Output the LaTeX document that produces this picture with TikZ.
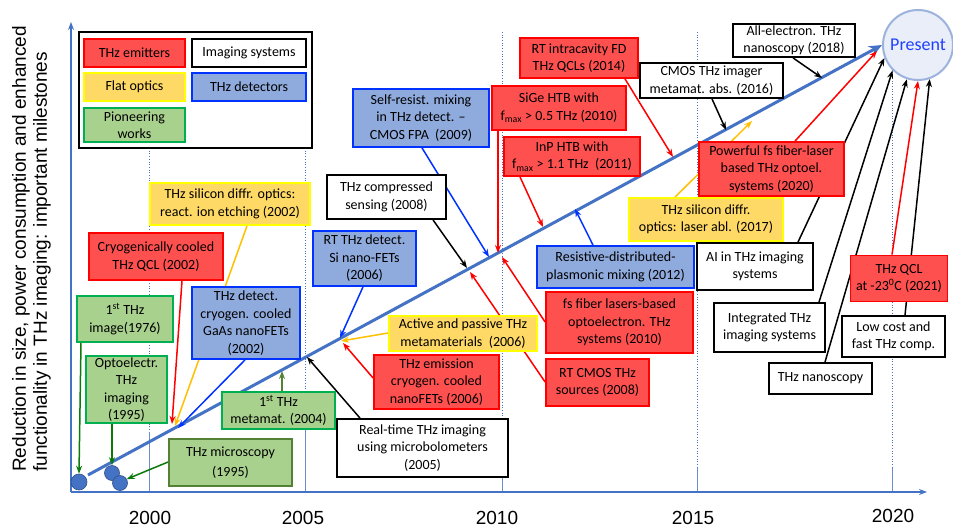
\documentclass[tikz,border=0pt]{standalone}
\usepackage{fontspec}
\setmainfont{Carlito}
\newfontfamily\arialf{Liberation Sans}
\usetikzlibrary{arrows.meta}
\definecolor{rfill}{HTML}{FF5050}
\definecolor{rline}{HTML}{FF0000}
\definecolor{yfill}{HTML}{FFD966}
\definecolor{yline}{HTML}{FFFF00}
\definecolor{bfill}{HTML}{8FAADC}
\definecolor{bline}{HTML}{0033FF}
\definecolor{gfill}{HTML}{A9D18E}
\definecolor{gline}{HTML}{00B050}
\definecolor{gdark}{HTML}{538135}
\definecolor{axisblue}{HTML}{4472C4}
\definecolor{arrorange}{HTML}{FFC000}
\definecolor{arrgreen}{HTML}{0A7A0A}
\definecolor{arrolive}{HTML}{548235}
\definecolor{presfill}{HTML}{E9EEF8}
\definecolor{presline}{HTML}{9DB3DD}
\definecolor{prestext}{HTML}{2040FF}
\pgfdeclarelayer{back}\pgfdeclarelayer{mid}\pgfsetlayers{back,mid,main}
\begin{document}
\begin{tikzpicture}[x=1pt,y=-1pt,
 mbox/.style={draw, line width=1.8pt, inner sep=0pt, align=center, font=\fontsize{14}{17.5}\selectfont},
 redbox/.style={mbox, fill=rfill, draw=rline},
 yelbox/.style={mbox, fill=yfill, draw=yline},
 bluebox/.style={mbox, fill=bfill, draw=bline},
 grnbox/.style={mbox, fill=gfill, draw=gline},
 grndkbox/.style={mbox, fill=gfill, draw=gdark},
 whitebox/.style={mbox, fill=white, draw=black},
 sz/.style 2 args={minimum width=#1pt, minimum height=#2pt},
 arr/.style={line width=1.5pt, -{Stealth[length=8pt,width=6pt]}},
 dotnode/.style={circle, fill=axisblue, draw=axisblue!70!black, line width=0.6pt, minimum size=16pt, inner sep=0pt},
 yearlbl/.style={font=\arialf\fontsize{19}{22}\selectfont, inner sep=0pt},
 gridd/.style={axisblue, line width=0.7pt, dotted},
 grids/.style={axisblue!80, line width=0.7pt},
]
\useasboundingbox (0,0) rectangle (953,529);
\begin{pgfonlayer}{back}
\fill[white] (0,0) rectangle (953,529);
\foreach \gx/\gs in {149/432, 305/417, 502/450, 697/468, 892/468}{
  \draw[gridd] (\gx,32) -- (\gx,\gs);
  \draw[grids] (\gx,\gs) -- (\gx,492);
}
\draw[axisblue, line width=1.3pt, -{Stealth[length=8pt,width=6pt]}] (71,492) -- (71,22);
\draw[axisblue, line width=1.3pt, -{Stealth[length=8pt,width=6pt]}] (71,492) -- (927,492);
\end{pgfonlayer}

% axis label and years
\node[rotate=90, anchor=north west, align=left, inner sep=0pt,
      font=\arialf\fontsize{19}{21}\selectfont] (ylabel) at (12,472)
  {Reduction in size, power consumption and enhanced\\functionality in THz imaging: important milestones};
\node[yearlbl] (y2000) at (150,518) {2000};
\node[yearlbl] (y2005) at (303,518) {2005};
\node[yearlbl] (y2010) at (497,518) {2010};
\node[yearlbl] (y2015) at (693,518) {2015};
\node[yearlbl] (y2020) at (893,516) {2020};

% legend
\node[mbox, draw=black, line width=2.2pt, fill=white, sz={233}{116}] (legend) at (195.5,90) {};
\node[redbox, sz={101}{28}] (lemit) at (134.5,53) {THz emitters};
\node[whitebox, sz={114}{28}] (limg) at (249,53) {Imaging systems};
\node[yelbox, sz={101}{28}] (lflat) at (134.5,87) {Flat optics};
\node[bluebox, sz={114}{28}] (ldet) at (249,87) {THz detectors};
\node[grnbox, sz={101}{34}] (lpio) at (134.5,125) {Pioneering\\works};

% dots and present
\node[dotnode] (dot1) at (79,482) {};
\node[dotnode, minimum size=15pt] (dot2) at (112,473) {};
\node[dotnode, minimum size=15pt] (dot3) at (120,483) {};
\node[circle, draw=presline, fill=presfill, line width=2pt, minimum size=70pt, inner sep=0pt,
      text=prestext, font=\fontsize{18}{20}\selectfont] (present) at (918,45) {Present};

% milestone boxes
\node[grnbox, sz={96}{46}] (img1976) at (125,319) {1\textsuperscript{st} THz\\image(1976)};
\node[grnbox, sz={81}{67}] (opto) at (126.5,389.5) {Optoelectr.\\THz\\imaging\\(1995)};
\node[grndkbox, sz={123}{47}] (micro) at (230.5,462.5) {THz microscopy\\[3pt](1995)};
\node[redbox, sz={134}{47}] (cryoQCL) at (156,256.5) {Cryogenically cooled\\THz QCL (2002)};
\node[yelbox, sz={160}{42}] (siRIE) at (230,204) {THz silicon diffr. optics:\\react. ion etching (2002)};
\node[bluebox, sz={108}{72}] (gaas) at (246,323) {THz detect.\\cryogen. cooled\\GaAs nanoFETs\\(2002)};
\node[grnbox, sz={113}{37}] (meta04) at (278.5,410.5) {1\textsuperscript{st} THz\\metamat. (2004)};
\node[whitebox, sz={171}{58}] (realtime) at (422.5,448) {Real-time THz imaging\\using microbolometers\\(2005)};
\node[bluebox, sz={103}{55}] (rtsi) at (364.5,258.5) {RT THz detect.\\Si nano-FETs\\(2006)};
\node[yelbox, sz={148}{35}] (active) at (463,333.5) {Active and passive THz\\metamaterials~~(2006)};
\node[redbox, sz={125}{54}] (emission) at (436.5,382) {THz emission\\cryogen. cooled\\nanoFETs (2006)};
\node[whitebox, sz={119}{44}] (compressed) at (386.5,197) {THz compressed\\sensing (2008)};
\node[bluebox, sz={136}{58}] (selfres) at (421,118) {Self-resist. mixing\\in THz detect. –\\CMOS FPA~~(2009)};
\node[redbox, sz={134}{44}] (sige) at (559,108) {SiGe HTB with\\f\textsubscript{max} > 0.5 THz (2010)};
\node[redbox, sz={136}{39}] (inp) at (572,156.5) {InP HTB with\\f\textsubscript{max} > 1.1 THz~~(2011)};
\node[redbox, sz={118}{40}] (rtqcl) at (579,58) {RT intracavity FD\\THz QCLs (2014)};
\node[redbox, sz={147}{61}] (fsfiber) at (619.5,322.5) {fs fiber lasers-based\\optoelectron. THz\\systems (2010)};
\node[redbox, sz={103}{47}] (rtcmos) at (597.5,382.5) {RT CMOS THz\\sources (2008)};
\node[bluebox, sz={157}{42}] (resist) at (615.5,267) {Resistive-distributed-\\plasmonic mixing (2012)};
\node[whitebox, sz={143}{35}] (cmosimg) at (711.5,80.5) {CMOS THz imager\\metamat. abs. (2016)};
\node[whitebox, sz={122}{33}] (allelec) at (794,40.5) {All-electron. THz\\nanoscopy (2018)};
\node[yelbox, sz={154}{43}] (silaser) at (706,219.5) {THz silicon diffr.\\optics: laser abl. (2017)};
\node[redbox, sz={145}{54}] (powerful) at (771.5,169) {Powerful fs fiber-laser\\based THz optoel.\\systems (2020)};
\node[whitebox, sz={116}{47}] (ai) at (755,266.5) {AI in THz imaging\\systems};
\node[whitebox, sz={111}{49}] (integ) at (769.5,327.5) {Integrated THz\\imaging systems};
\node[whitebox, sz={103}{31}] (nanosc) at (820.5,378.5) {THz nanoscopy};
\node[whitebox, sz={103}{41}] (lowcost) at (893.5,336.5) {Low cost and\\fast THz comp.};
\node[redbox, sz={97}{46}] (qcl23) at (899,278.5) {THz QCL\\at -23\textsuperscript{0}C (2021)};

% arrow end points on the milestone line
\coordinate (mstart) at (88,475);
\coordinate (t4) at (172,424);
\coordinate (t5) at (175,426);
\coordinate (t6) at (178,428);
\coordinate (t7) at (282,371);
\coordinate (t8) at (307,357);
\coordinate (t9) at (340,338);
\coordinate (t10) at (341,341);
\coordinate (t11) at (343,343);
\coordinate (t12) at (467,268);
\coordinate (t13) at (489,257);
\coordinate (t14) at (498,253);
\coordinate (t15) at (543,227);
\coordinate (t16) at (673,157);
\coordinate (t17) at (502,257);
\coordinate (t18) at (470,272);
\coordinate (t19) at (575,209);
\coordinate (t20) at (726,130);
\coordinate (t21) at (822,78);
\coordinate (t22) at (752,121);
\coordinate (t23) at (877,51);

\begin{pgfonlayer}{mid}
\draw[axisblue, line width=3pt, -{Stealth[length=13pt,width=11pt]}] (mstart) -- (present.west);
\draw[arr, arrgreen] (img1976.south -| 81,0) -- (dot1.north);
\draw[arr, arrgreen] (opto.south -| 112,0) -- (dot2.north);
\draw[arr, arrgreen] (micro.west |- 0,462) -- (dot3.30);
\draw[arr, rline] (cryoQCL.south -| 182,0) -- (t4);
\draw[arr, arrorange] (siRIE.south -| 247,0) -- (t5);
\draw[arr, bline] (gaas.south -| 245,0) -- (t6);
\draw[arr, arrolive] (meta04.north -| 282,0) -- (t7);
\draw[arr, black] (realtime.north -| 360,0) -- (t8);
\draw[arr, bline] (rtsi.south -| 363,0) -- (t9);
\draw[arr, arrorange] (active.west |- 0,333) -- (t10);
\draw[arr, rline] (emission.west |- 0,378) -- (t11);
\draw[arr, black] (compressed.south -| 433,0) -- (t12);
\draw[arr, bline] (selfres.south -| 422,0) -- (t13);
\draw[arr, rline] (sige.south -| 498,0) -- (t14);
\draw[arr, rline] (inp.south -| 520,0) -- (t15);
\draw[arr, rline] (rtqcl.south -| 625,0) -- (t16);
\draw[arr, rline] (fsfiber.west |- 0,322) -- (t17);
\draw[arr, rline] (rtcmos.west |- 0,382) -- (t18);
\draw[arr, bline] (resist.north -| 593,0) -- (t19);
\draw[arr, black] (cmosimg.south -| 712,0) -- (t20);
\draw[arr, black] (allelec.south -| 793,0) -- (t21);
\draw[arr, arrorange] (silaser.north -| 675,0) -- (t22);
\draw[arr, rline] (powerful.north -| 795,0) -- (t23);
\draw[arr, black] (ai.north -| 798,0) -- (present.201);
\draw[arr, black] (integ.north -| 819,0) -- (present.225);
\draw[arr, black] (nanosc.north -| 825,0) -- (present.252);
\draw[arr, rline] (qcl23.north -| 892,0) -- (present.south);
\draw[arr, black] (lowcost.north -| 905,0) -- (present.289);
\end{pgfonlayer}
\end{tikzpicture}
\end{document}
